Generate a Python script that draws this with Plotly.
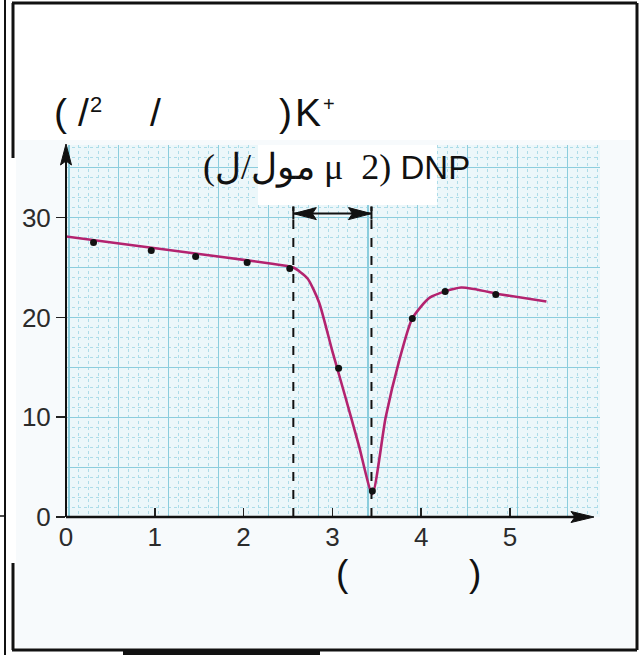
import plotly.graph_objects as go

# ---------------- data ----------------
x_ticks = [0, 1, 2, 3, 4, 5]
y_ticks = [0, 10, 20, 30]

x_obs = [0.31, 0.96, 1.46, 2.04, 2.52, 3.07, 3.45, 3.90, 4.27, 4.84]
y_obs = [27.5, 26.7, 26.1, 25.5, 24.9, 14.9, 2.6, 19.9, 22.6, 22.3]

x_fit = [0.0, 0.6, 1.2, 1.8, 2.3, 2.56, 2.72, 2.85, 3.0, 3.15, 3.3, 3.45,
         3.6, 3.75, 3.9, 4.1, 4.45, 4.9, 5.41]
y_fit = [28.1, 27.4, 26.7, 26.0, 25.4, 25.0, 23.9, 21.5, 16.6, 11.9, 7.1, 2.3,
         10.0, 15.6, 19.9, 22.0, 23.0, 22.3, 21.6]

dnp_start = 2.56
dnp_end = 3.44
dnp_level = 30.4

NB = "\u00a0"
dnp_label = ('<span style="font-family:\'Liberation Serif\';font-size:36px">(مول/ل' + NB + "μ"
             + NB + NB + "2)</span>" + NB + "DNP")

# ---------------- geometry helpers ----------------
W, H = 640, 655
ML, MR, MT, MB = 66, 40, 145, 138
PW, PH = W - ML - MR, H - MT - MB
X_PER_UNIT = 88.8
Y_PER_UNIT = 9.98
X_MAX = PW / X_PER_UNIT
Y_MAX = PH / Y_PER_UNIT


def fx(px):
    return (px - ML) / PW


def fy(py):
    return (H - MB - py) / PH


BLACK = "#111111"
CURVE = "#b3236f"
GRID_MAJOR = "#8ccddd"
GRID_MINOR = "#addce8"

fig = go.Figure()

# invisible trace so the grid (paper) axes are drawn
fig.add_trace(go.Scatter(x=x_obs[:1], y=y_obs[:1], xaxis="x2", yaxis="y2",
                         mode="markers", marker=dict(opacity=0),
                         hoverinfo="skip", showlegend=False))

fig.add_trace(go.Scatter(x=x_fit, y=y_fit, mode="lines",
                         line=dict(color=CURVE, width=2.6, shape="spline", smoothing=0.6),
                         hoverinfo="skip", showlegend=False))
fig.add_trace(go.Scatter(x=x_obs, y=y_obs, mode="markers",
                         marker=dict(color=BLACK, size=7),
                         showlegend=False))

shapes = []
# scanned area tint and grid paper background
shapes.append(dict(type="rect", xref="paper", yref="paper", x0=fx(16), x1=fx(634),
                   y0=fy(648), y1=fy(140), fillcolor="#f7fafc", line=dict(width=0), layer="below"))
shapes.append(dict(type="rect", xref="paper", yref="paper", x0=0, x1=1, y0=0, y1=1,
                   fillcolor="#ecf7fa", line=dict(width=0), layer="below"))
# white box behind DNP label
shapes.append(dict(type="rect", xref="paper", yref="paper", x0=fx(258), x1=fx(437),
                   y0=fy(205), y1=fy(145), fillcolor="white", line=dict(width=0), layer="above"))

# dashed DNP limits
for xv in (dnp_start, dnp_end):
    shapes.append(dict(type="line", xref="x", yref="y", x0=xv, x1=xv, y0=0, y1=dnp_level + 0.7,
                       line=dict(color=BLACK, width=2, dash="dash"), layer="above"))
    shapes.append(dict(type="line", xref="x", yref="y", x0=xv, x1=xv, y0=dnp_level - 0.6,
                       y1=dnp_level + 0.7, line=dict(color=BLACK, width=2), layer="above"))

# double arrow between the limits
head_len = 23 / X_PER_UNIT
head_half = 6 / Y_PER_UNIT
notch = 4 / X_PER_UNIT
shapes.append(dict(type="line", xref="x", yref="y", x0=dnp_start, x1=dnp_end,
                   y0=dnp_level, y1=dnp_level, line=dict(color=BLACK, width=2), layer="above"))
shapes.append(dict(type="path", xref="x", yref="y", layer="above", fillcolor=BLACK,
                   line=dict(color=BLACK, width=1),
                   path=f"M {dnp_start},{dnp_level} L {dnp_start + head_len},{dnp_level + head_half} "
                        f"L {dnp_start + head_len - notch},{dnp_level} "
                        f"L {dnp_start + head_len},{dnp_level - head_half} Z"))
shapes.append(dict(type="path", xref="x", yref="y", layer="above", fillcolor=BLACK,
                   line=dict(color=BLACK, width=1),
                   path=f"M {dnp_end},{dnp_level} L {dnp_end - head_len},{dnp_level + head_half} "
                        f"L {dnp_end - head_len + notch},{dnp_level} "
                        f"L {dnp_end - head_len},{dnp_level - head_half} Z"))

# axes lines with arrow heads
shapes.append(dict(type="line", xref="paper", yref="paper", x0=0, x1=fx(580), y0=0, y1=0,
                   line=dict(color=BLACK, width=2.5), layer="above"))
hx = 5.5 / PH
shapes.append(dict(type="path", xref="paper", yref="paper", layer="above", fillcolor=BLACK,
                   line=dict(color=BLACK, width=1),
                   path=f"M {fx(594)},0 L {fx(571)},{hx} L {fx(575)},0 L {fx(571)},{-hx} Z"))
shapes.append(dict(type="line", xref="paper", yref="paper", x0=0, x1=0, y0=0, y1=fy(158),
                   line=dict(color=BLACK, width=2), layer="above"))
hy = 5.5 / PW
shapes.append(dict(type="path", xref="paper", yref="paper", layer="above", fillcolor=BLACK,
                   line=dict(color=BLACK, width=1),
                   path=f"M 0,{fy(144)} L {hy},{fy(165)} L 0,{fy(161)} L {-hy},{fy(165)} Z"))

# outer frame
frame = [
    (12, 3, 637, 3, 3), (637, 3, 637, 650, 3), (12, 650, 637, 650, 3),
    (13, 3, 13, 158, 3), (13, 563, 13, 650, 3), (5, 0, 5, 655, 2), (0, 516, 6, 516, 1.5),
]
for x0, y0, x1, y1, w in frame:
    shapes.append(dict(type="line", xref="paper", yref="paper", x0=fx(x0), x1=fx(x1),
                       y0=fy(y0), y1=fy(y1), line=dict(color=BLACK, width=w), layer="above"))
shapes.append(dict(type="rect", xref="paper", yref="paper", x0=fx(123), x1=fx(320),
                   y0=fy(655), y1=fy(651), fillcolor=BLACK, line=dict(width=0), layer="above"))

annotations = []


def txt(text, px, py, size=38, family="Liberation Sans", xanchor="center"):
    annotations.append(dict(text=text, xref="paper", yref="paper", x=fx(px), y=fy(py),
                            xanchor=xanchor, yanchor="middle", showarrow=False,
                            font=dict(family=family, size=size, color=BLACK)))


txt("(", 60, 112, size=39)
txt("/", 83, 112, size=39)
txt("2", 96, 104, size=22)
txt("/", 155, 112, size=39)
txt(")", 285, 112, size=39)
txt("K", 308, 112, size=39)
txt("+", 329, 104, size=20)

txt(dnp_label, 336, 168, size=33)

txt("(", 342, 573, size=37)
txt(")", 475, 573, size=37)

tick_font = dict(family="Liberation Sans", size=26, color="#2b2b2b")

fig.update_layout(
    width=W, height=H,
    margin=dict(l=ML, r=MR, t=MT, b=MB, pad=0),
    paper_bgcolor="white", plot_bgcolor="rgba(0,0,0,0)",
    showlegend=False,
    xaxis=dict(range=[0, X_MAX], tickmode="array", tickvals=x_ticks, ticks="inside",
               ticklen=9, tickwidth=1.5, tickcolor="#222", showgrid=False, zeroline=False,
               showline=False, tickfont=tick_font, ticklabelstandoff=2, fixedrange=True),
    yaxis=dict(range=[0, Y_MAX], tickmode="array", tickvals=y_ticks, ticks="outside",
               ticklen=9, tickwidth=1.5, tickcolor="#222", showgrid=False, zeroline=False,
               showline=False, tickfont=tick_font, fixedrange=True),
    xaxis2=dict(overlaying="x", range=[0, X_MAX], tick0=0.034, dtick=0.561,
                showgrid=True, gridcolor=GRID_MAJOR, gridwidth=1.2, showticklabels=False,
                ticks="", zeroline=False, showline=False,
                minor=dict(tick0=0.034, dtick=0.1122, showgrid=True, gridcolor=GRID_MINOR,
                           griddash="dot", gridwidth=1)),
    yaxis2=dict(overlaying="y", anchor="x2", range=[0, Y_MAX], tick0=0, dtick=5,
                showgrid=True, gridcolor=GRID_MAJOR, gridwidth=1.2, showticklabels=False,
                ticks="", zeroline=False, showline=False,
                minor=dict(tick0=0, dtick=1, showgrid=True, gridcolor=GRID_MINOR,
                           griddash="dot", gridwidth=1)),
    shapes=shapes,
    annotations=annotations,
)

fig.write_html("out.html", config={"displayModeBar": False, "staticPlot": True},
               post_script="document.body.style.margin='0';")
